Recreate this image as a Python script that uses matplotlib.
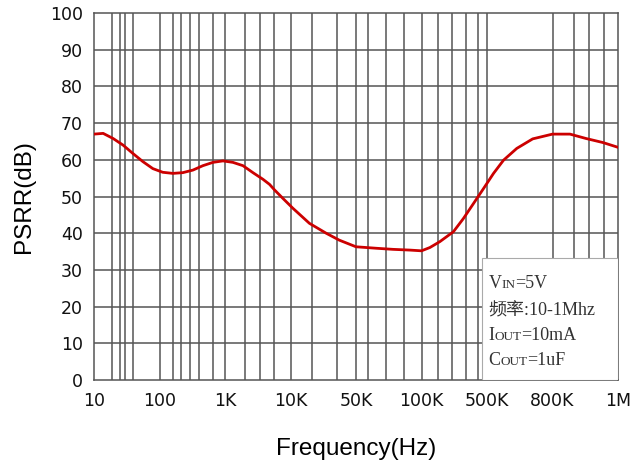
import numpy as np
import matplotlib.pyplot as plt

# x axis: equally spaced labelled frequencies (not a true log axis)
freq_breaks = [10, 100, 1e3, 1e4, 5e4, 1e5, 5e5, 8e5, 1e6]
freq_labels = ['10', '100', '1K', '10K', '50K', '100K', '500K', '800K', '1M']
grid_freqs = [19, 25, 30, 40, 160, 215, 290, 400, 650, 2000, 3400, 5600,
              17e3, 31e3, 57e3, 69e3, 83e3, 150e3, 210e3, 295e3, 405e3,
              860e3, 905e3, 955e3]

# PSRR curve
freq = [10, 13.8, 19.6, 27.8, 39.4, 55.8, 79.1, 112, 160, 227, 324, 460, 655,
        931, 1320, 1880, 2670, 3790, 4790, 5700, 7640, 10.6e3, 15.9e3, 24e3,
        33.2e3, 50e3, 61.9e3, 73.9e3, 88.3e3, 100e3, 123e3, 157e3, 219e3,
        280e3, 359e3, 460e3, 524e3, 563e3, 619e3, 694e3, 800e3, 849e3, 897e3,
        950e3, 1e6]
psrr = [67.0, 67.2, 65.8, 64.0, 61.7, 59.5, 57.6, 56.6, 56.3, 56.5, 57.2, 58.4,
        59.3, 59.7, 59.3, 58.4, 56.5, 54.7, 53.3, 51.8, 49.5, 46.8, 42.7, 40.0,
        38.1, 36.3, 35.9, 35.6, 35.4, 35.2, 36.1, 37.7, 40.4,
        44.0, 48.1, 52.2, 56.3, 59.9, 63.1, 65.7, 67.0, 67.0, 65.8,
        64.7, 63.4]

lb = np.log10(freq_breaks)
idx = np.arange(len(freq_breaks))


def fwd(x):
    return np.interp(np.log10(np.clip(x, 1e-9, None)), lb, idx)


def inv(p):
    return 10 ** np.interp(p, idx, lb)


fig = plt.figure(figsize=(6.36, 4.66), dpi=100)
ax = fig.add_axes([94 / 636, 86 / 466, 524 / 636, 367 / 466])
ax.set_xscale('function', functions=(fwd, inv))
ax.set_xlim(10, 1e6)
ax.set_ylim(0, 100)

grid_col = '#555555'
for f in freq_breaks[1:-1] + grid_freqs:
    ax.axvline(f, color=grid_col, lw=1.1, zorder=1)
for v in range(10, 100, 10):
    ax.axhline(v, color=grid_col, lw=1.1, zorder=1)
for s in ax.spines.values():
    s.set_color(grid_col)
    s.set_linewidth(1.1)

ax.plot(freq, psrr, color='#cc0000', lw=2, zorder=3, solid_joinstyle='round')

ax.set_xticks(freq_breaks)
ax.set_xticklabels(freq_labels)
ax.set_yticks(range(0, 101, 10))
ax.xaxis.set_minor_locator(plt.NullLocator())
ax.tick_params(length=0, labelsize=12.5, colors='#111111')
ax.tick_params(axis='x', pad=9)
ax.tick_params(axis='y', pad=8)
ax.set_xlabel('Frequency(Hz)', fontsize=17.5, family='Liberation Sans', labelpad=20)
ax.set_ylabel('PSRR(dB)', fontsize=17.5, family='Liberation Sans', labelpad=11)

# condition box
ax.add_patch(plt.Rectangle((0.74, 0.0), 0.26, 0.332, transform=ax.transAxes,
                           facecolor='white', edgecolor='#aaaaaa', lw=0.8, zorder=4))

fam = ['Liberation Serif', 'Noto Sans CJK SC']
lines = [[('V', 13), ('IN', 9.5), ('=5V', 13)],
         [('频率:10-1Mhz', 13)],
         [('I', 13), ('OUT', 9.5), ('=10mA', 13)],
         [('C', 13), ('OUT', 9.5), ('=1uF', 13)]]
fig.canvas.draw()
r = fig.canvas.get_renderer()
ys = [0.251, 0.177, 0.109, 0.041]
for parts, y in zip(lines, ys):
    x = 0.753
    for txt, sz in parts:
        t = ax.text(x, y, txt, transform=ax.transAxes, fontsize=sz, family=fam,
                    color='#333333', va='baseline', zorder=5)
        bb = t.get_window_extent(r).transformed(ax.transAxes.inverted())
        x = bb.x1

fig.savefig('out.png', dpi=100)
